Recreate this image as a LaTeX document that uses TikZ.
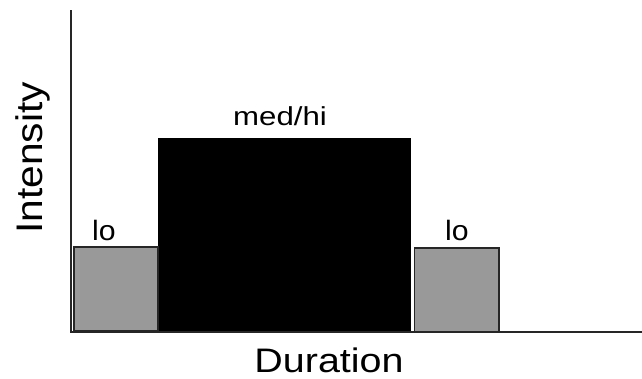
\documentclass[tikz,border=0pt]{standalone}
\usepackage{fontspec}
\setmainfont{Liberation Sans}
\begin{document}
\begin{tikzpicture}[x=1pt,y=-1pt,
  axis/.style={line width=2pt,black!85},
  bar/.style={draw=black!85,line width=1.6pt},
  lbl/.style={inner sep=0pt,anchor=base}]
\useasboundingbox (0,0) rectangle (642,378);
% bars
\fill[black] (158,138) rectangle (411,331);
\draw[bar,fill=black!40] (74,247) rectangle (158,331);
\draw[bar,fill=black!40] (414.5,248) rectangle (499,332);
% axes
\coordinate (o) at (71,331.5);
\coordinate (ytop) at (71,10);
\coordinate (xend) at (642,331.5);
\draw[axis] (ytop) -- (o) -- (xend);
% labels
\node[lbl] (lo1) at (104,240) {\fontsize{28}{30}\selectfont\scalebox{1.08}[1]{lo}};
\node[lbl] (med) at (280,125) {\fontsize{26}{30}\selectfont\scalebox{1.2}[1]{med/hi}};
\node[lbl] (lo2) at (457,240) {\fontsize{28}{30}\selectfont\scalebox{1.08}[1]{lo}};
\node[lbl] (dur) at (329,372) {\fontsize{34}{36}\selectfont\scalebox{1.16}[1]{Duration}};
\node[lbl,rotate=90] (int) at (42,158) {\fontsize{37}{40}\selectfont\scalebox{1.1}[1]{Intensity}};
\end{tikzpicture}
\end{document}
